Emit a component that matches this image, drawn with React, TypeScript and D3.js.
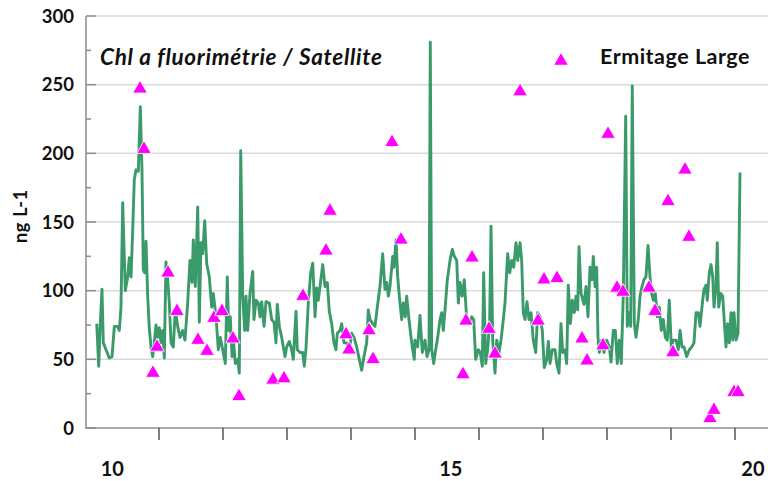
import React from "react";
import * as d3 from "d3";

const BASE_YEAR = 2010;

// Satellite Chl a series: time (years since Jan 2010) and value (ng L-1)
const satTime = [
  0.027, 0.058, 0.078, 0.109, 0.130, 0.172, 0.223, 0.266, 0.302, 0.355, 0.380, 0.406, 0.433, 0.473, 0.511, 0.536,
  0.563, 0.589, 0.614, 0.641, 0.677, 0.708, 0.734, 0.755, 0.777, 0.797, 0.823, 0.848, 0.875, 0.902, 0.927, 0.953,
  0.980, 1.005, 1.031, 1.058, 1.083, 1.109, 1.136, 1.161, 1.188, 1.223, 1.255, 1.292, 1.328, 1.370, 1.406, 1.448,
  1.484, 1.516, 1.536, 1.567, 1.605, 1.630, 1.656, 1.683, 1.714, 1.745, 1.786, 1.823, 1.848, 1.891, 1.927, 1.958,
  1.995, 2.036, 2.067, 2.089, 2.114, 2.141, 2.167, 2.192, 2.230, 2.255, 2.277, 2.308, 2.339, 2.359, 2.386, 2.422,
  2.464, 2.484, 2.516, 2.552, 2.578, 2.605, 2.641, 2.672, 2.723, 2.761, 2.797, 2.828, 2.848, 2.880, 2.917, 2.942,
  2.969, 2.995, 3.036, 3.073, 3.098, 3.141, 3.161, 3.203, 3.245, 3.270, 3.297, 3.333, 3.370, 3.402, 3.438, 3.464,
  3.489, 3.516, 3.558, 3.594, 3.630, 3.661, 3.698, 3.734, 3.766, 3.786, 3.828, 3.855, 3.891, 3.933, 3.973, 4.011,
  4.047, 4.089, 4.130, 4.167, 4.203, 4.245, 4.270, 4.297, 4.339, 4.375, 4.411, 4.453, 4.495, 4.531, 4.558, 4.583,
  4.609, 4.652, 4.672, 4.703, 4.730, 4.755, 4.792, 4.817, 4.848, 4.870, 4.906, 4.938, 4.964, 4.989, 5.000, 5.042,
  5.078, 5.114, 5.156, 5.188, 5.219, 5.239, 5.261, 5.292, 5.323, 5.355, 5.391, 5.417, 5.442, 5.469, 5.505, 5.547,
  5.583, 5.614, 5.652, 5.677, 5.703, 5.739, 5.770, 5.808, 5.844, 5.886, 5.917, 5.948, 5.989, 6.020, 6.052, 6.073,
  6.105, 6.136, 6.167, 6.188, 6.214, 6.250, 6.277, 6.313, 6.344, 6.380, 6.406, 6.448, 6.480, 6.511, 6.542, 6.578,
  6.605, 6.641, 6.667, 6.692, 6.719, 6.750, 6.781, 6.813, 6.848, 6.886, 6.917, 6.953, 6.989, 7.020, 7.058, 7.083,
  7.109, 7.145, 7.188, 7.214, 7.250, 7.281, 7.308, 7.344, 7.370, 7.395, 7.427, 7.458, 7.489, 7.516, 7.542, 7.563,
  7.594, 7.641, 7.672, 7.703, 7.734, 7.766, 7.786, 7.813, 7.839, 7.859, 7.880, 7.917, 7.953, 7.995, 8.036, 8.063,
  8.098, 8.130, 8.161, 8.192, 8.223, 8.255, 8.292, 8.317, 8.348, 8.370, 8.395, 8.427, 8.453, 8.489, 8.516, 8.547,
  8.578, 8.609, 8.641, 8.672, 8.698, 8.723, 8.755, 8.786, 8.817, 8.848, 8.880, 8.911, 8.942, 8.973, 9.005, 9.036,
  9.078, 9.114, 9.141, 9.172, 9.203, 9.245, 9.286, 9.323, 9.359, 9.391, 9.427, 9.453, 9.495, 9.516, 9.547, 9.567,
  9.598, 9.625, 9.652, 9.672, 9.703, 9.723, 9.745, 9.777, 9.808, 9.828, 9.859, 9.886, 9.911, 9.938, 9.964, 9.984,
  10.016, 10.047, 10.078,
];
const satValue = [
  76, 45, 71, 101, 62, 57, 51, 52, 74, 74, 71, 88, 164, 100, 110, 124,
  110, 144, 181, 188, 187, 234, 188, 115, 113, 136, 96, 73, 59, 52, 62, 75,
  66, 73, 62, 71, 51, 121, 108, 91, 62, 59, 86, 74, 66, 71, 64, 91,
  122, 106, 137, 103, 161, 77, 135, 127, 151, 120, 110, 88, 98, 81, 57, 66,
  57, 47, 110, 71, 81, 52, 62, 47, 50, 40, 202, 96, 71, 96, 71, 98,
  114, 79, 93, 91, 81, 92, 74, 92, 91, 79, 77, 62, 90, 74, 66, 59,
  52, 59, 63, 57, 50, 85, 57, 55, 55, 45, 58, 91, 113, 120, 81, 102,
  93, 103, 119, 103, 106, 85, 76, 62, 57, 69, 71, 76, 62, 62, 57, 69,
  66, 59, 50, 42, 52, 62, 86, 79, 76, 74, 88, 103, 127, 101, 106, 96,
  103, 125, 117, 137, 110, 96, 79, 91, 81, 96, 79, 66, 57, 50, 64, 59,
  82, 55, 64, 52, 57, 281, 57, 47, 57, 66, 79, 84, 71, 86, 108, 122,
  130, 125, 122, 91, 106, 96, 108, 79, 76, 81, 79, 50, 57, 55, 45, 113,
  47, 57, 79, 147, 64, 40, 64, 55, 64, 79, 91, 127, 113, 122, 117, 135,
  122, 135, 122, 84, 79, 92, 79, 84, 64, 55, 84, 81, 71, 44, 50, 63,
  47, 57, 57, 47, 40, 76, 55, 57, 47, 104, 76, 93, 84, 96, 86, 132,
  98, 90, 103, 81, 117, 108, 125, 103, 117, 66, 55, 64, 55, 64, 59, 48,
  71, 71, 47, 64, 47, 98, 227, 74, 84, 74, 249, 76, 66, 79, 96, 103,
  108, 110, 133, 110, 98, 93, 98, 81, 88, 71, 79, 66, 64, 93, 59, 64,
  64, 57, 71, 59, 59, 52, 57, 59, 62, 84, 84, 74, 93, 101, 104, 93,
  113, 119, 110, 88, 103, 135, 88, 98, 96, 81, 59, 76, 62, 84, 64, 84,
  64, 69, 186,
];

// In situ fluorimetry, Ermitage Large
const insituTime = [
  0.703, 0.766, 0.906, 0.969, 1.141, 1.281, 1.609, 1.750, 1.859, 1.984, 2.156, 2.250, 2.781, 2.953, 3.250, 3.609,
  3.672, 3.922, 3.969, 4.281, 4.344, 4.641, 4.781, 5.750, 5.797, 5.891, 6.156, 6.250, 6.641, 6.922, 7.016, 7.219,
  7.609, 7.688, 7.938, 8.016, 8.156, 8.250, 8.656, 8.750, 8.953, 9.031, 9.219, 9.281, 9.609, 9.672, 9.984, 10.047,
];
const insituValue = [
  247, 203, 40, 59, 113, 85, 64, 56, 80, 85, 65, 23, 35, 36, 96, 129,
  158, 68, 57, 71, 50, 208, 137, 39, 78, 124, 72, 54, 245, 78, 108, 109,
  65, 49, 60, 214, 102, 99, 102, 85, 165, 55, 188, 139, 7, 13, 26, 26,
];

const yTicksMajor = [0, 50, 100, 150, 200, 250, 300];
const yTicksMinor = [25, 75, 125, 175, 225, 275];
const xTickYears = [2011, 2012, 2013, 2014, 2015, 2016, 2017, 2018, 2019, 2020];
const xLabelText = ["10", "15", "20"];
const xLabelAt = [2010.27, 2015.56, 2020.28];

const TITLE = "Chl a fluorimétrie / Satellite";
const LEGEND = "Ermitage Large";
const Y_TITLE = "ng L-1";

const W = 768;
const H = 481;
const FONT = "Lato, 'Open Sans', sans-serif";

export default function App() {
  const x = d3.scaleLinear().domain([2010, 2020]).range([95, 735]);
  const y = d3.scaleLinear().domain([0, 300]).range([428, 16]);
  const axisX = 86;
  const sat = satTime.map((t, i) => [BASE_YEAR + t, satValue[i]] as [number, number]);
  const ins = insituTime.map((t, i) => [BASE_YEAR + t, insituValue[i]] as [number, number]);
  const line = d3
    .line<[number, number]>()
    .x((d) => x(d[0]))
    .y((d) => y(d[1]));
  const tri = d3.symbol(d3.symbolTriangle, 92)();

  return (
    <svg
      width={W}
      height={H}
      style={{ position: "absolute", left: 0, top: 0, background: "#fff" }}
      fontFamily={FONT}
    >
      {/* gridlines */}
      {yTicksMajor
        .filter((v) => v > 0)
        .map((v) => (
          <line key={"g" + v} x1={axisX} x2={W} y1={y(v)} y2={y(v)} stroke="#d9d9d9" strokeWidth={1.5} />
        ))}
      {/* y axis */}
      <line x1={axisX} x2={axisX} y1={y(300)} y2={y(0)} stroke="#8c8c8c" strokeWidth={1.5} />
      {yTicksMajor.map((v) => (
        <line key={"mt" + v} x1={axisX} x2={axisX + 10} y1={y(v)} y2={y(v)} stroke="#8c8c8c" strokeWidth={1.5} />
      ))}
      {yTicksMinor.map((v) => (
        <line key={"nt" + v} x1={axisX} x2={axisX + 5} y1={y(v)} y2={y(v)} stroke="#8c8c8c" strokeWidth={1.5} />
      ))}
      {yTicksMajor.map((v) => (
        <text
          key={"yl" + v}
          x={74}
          y={y(v)}
          dy="0.36em"
          textAnchor="end"
          fontSize={18.5}
          fontWeight="bold"
          fill="#111"
        >
          {v}
        </text>
      ))}
      <text
        transform={`translate(27, 216) rotate(-90)`}
        textAnchor="middle"
        fontSize={18}
        fontWeight="bold"
        letterSpacing={0.8}
        fill="#111"
      >
        {Y_TITLE}
      </text>
      {/* x axis */}
      <line x1={axisX - 1} x2={W} y1={y(0)} y2={y(0)} stroke="#8c8c8c" strokeWidth={1.5} />
      {xTickYears.map((t) => (
        <line key={"xt" + t} x1={x(t)} x2={x(t)} y1={y(0)} y2={y(0) + 12} stroke="#555" strokeWidth={1.5} />
      ))}
      {xLabelText.map((s, i) => (
        <text
          key={"xl" + s}
          x={x(xLabelAt[i])}
          y={476}
          textAnchor="middle"
          fontSize={20}
          fontWeight="bold"
          fill="#111"
        >
          {s}
        </text>
      ))}
      {/* satellite line */}
      <path
        d={line(sat) || ""}
        fill="none"
        stroke="#3a9a6a"
        strokeWidth={2.9}
        strokeLinejoin="round"
      />
      {/* in situ triangles */}
      {ins.map((d, i) => (
        <path
          key={"p" + i}
          d={tri || ""}
          transform={`translate(${x(d[0])},${y(d[1])})`}
          fill="#ff00ff"
          stroke="#ffffff"
          strokeWidth={0.8}
        />
      ))}
      {/* title */}
      <text x={100} y={65} fontSize={22.5} fontWeight="bold" fontStyle="italic" letterSpacing={0.7} fill="#111">
        {TITLE}
      </text>
      {/* legend */}
      <path d={tri || ""} transform="translate(561,61)" fill="#ff00ff" stroke="#fff" strokeWidth={0.8} />
      <text x={600} y={64} fontSize={21.5} fontWeight="bold" letterSpacing={0.5} fill="#111">
        {LEGEND}
      </text>
    </svg>
  );
}
